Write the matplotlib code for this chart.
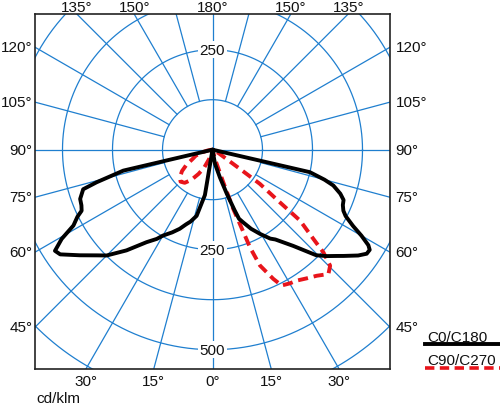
import numpy as np
import matplotlib
matplotlib.use('Agg')
import matplotlib.pyplot as plt
from matplotlib.lines import Line2D

plt.rcParams.update({'font.family': ['Liberation Sans', 'DejaVu Sans']})
plt.rcParams.update({'font.size': 11})

# --------------------------------------------------
# Data (gamma in degrees from nadir, intensity in cd/klm)
# --------------------------------------------------
c0_gamma = [0, 10, 15, 18, 20, 21, 23, 26, 29.5, 33, 35, 40, 44.5, 47, 49.5, 51,
            54, 56, 57.5, 58.5, 60, 61.5, 63.5, 65, 67, 69, 71, 73.5, 75, 77, 90]
c0_cd = [0, 36, 72, 116, 160, 185, 198, 220, 242, 265, 274, 314, 370, 390, 409, 422,
         450, 465, 466, 457, 430, 400, 372, 361, 354, 351, 338, 315, 290, 250, 0]

c180_gamma = [0, 9.5, 13.5, 17, 19.5, 22.5, 26, 30, 32, 35.5, 40.5, 45, 47.5, 51.5,
              55.5, 57.3, 59.4, 61.4, 63.6, 65, 67, 69.6, 73, 74.3, 76.8, 90]
c180_cd = [0, 115, 170, 188, 198, 214, 230, 248, 263, 284, 331, 374, 391, 424,
           462, 468, 438, 396, 377, 361, 356, 353, 338, 301, 229, 0]

c90_gamma = [0, 15, 18.3, 19.3, 20.5, 21, 22.3, 25.2, 27, 30, 32.7, 36, 39.6, 43,
             45.4, 47.2, 48.5, 51, 52, 54.2, 55, 60, 65, 90]
c90_cd = [0, 24, 85, 157, 215, 262, 313, 357, 381, 386, 389, 398, 409, 425,
          413, 378, 337, 282, 214, 146, 84, 19, 5, 0]

c270_gamma = [0, 15, 20, 25, 30, 35, 40, 45, 50, 55, 60, 65, 70, 75, 80, 85, 90]
c270_cd = [0, 0, 25, 50, 70, 92, 108, 113, 106, 93, 75, 55, 45, 30, 14, 4, 0]

ring_values = [125, 250, 375, 500, 625]
ring_labels_top = [250]
ring_labels_bottom = [250, 500]
spoke_step = 15
top_tick_angles = [135, 150, 180]
side_tick_angles = [45, 60, 75, 90, 105, 120]
bottom_tick_angles = [0, 15, 30]
unit_label = 'cd/klm'
legend_labels = ['C0/C180', 'C90/C270']

# --------------------------------------------------
# Figure / axes (data units = cd/klm, 0.4 px per unit)
# --------------------------------------------------
W, H = 500, 406
px = 0.4
fig = plt.figure(figsize=(W / 100, H / 100), dpi=100)
ax = fig.add_axes([35 / W, (H - 370) / H, 355 / W, 355 / H])

x_half = 177.5 / px
y_top = 135.7 / px
y_bot = -219.3 / px
ax.set_xlim(-x_half, x_half)
ax.set_ylim(y_bot, y_top)
ax.set_xticks([])
ax.set_yticks([])
for sp in ax.spines.values():
    sp.set_linewidth(1.2)
    sp.set_color('#222222')

grid_color = '#1f7fcf'
grid_lw = 0.9

# rings
t = np.linspace(0, 2 * np.pi, 721)
for r in ring_values:
    ax.plot(r * np.cos(t), r * np.sin(t), color=grid_color, lw=grid_lw, zorder=1)

# full horizontal / vertical lines
ax.axhline(0, color=grid_color, lw=grid_lw, zorder=1)
ax.axvline(0, color=grid_color, lw=grid_lw, zorder=1)

# spokes from the first ring outward
for g in range(spoke_step, 180, spoke_step):
    if g == 90:
        continue
    gr = np.radians(g)
    for s in (-1, 1):
        dx, dy = s * np.sin(gr), -np.cos(gr)
        ax.plot([ring_values[0] * dx, 2000 * dx], [ring_values[0] * dy, 2000 * dy],
                color=grid_color, lw=grid_lw, zorder=1)


def edge_point(g, s):
    gr = np.radians(g)
    dx, dy = s * np.sin(gr), -np.cos(gr)
    cands = []
    if abs(dx) > 1e-9:
        cands.append((x_half / abs(dx), 'side'))
    if dy > 1e-9:
        cands.append((y_top / dy, 'top'))
    if dy < -1e-9:
        cands.append((y_bot / dy, 'bottom'))
    tt, edge = min(cands)
    return tt * dx, tt * dy, edge


def angle_label(g, s):
    x, y, edge = edge_point(g, s)
    if edge == 'top':
        off, ha, va = (0, 0), 'center', 'bottom'
    elif edge == 'bottom':
        off, ha, va = (0, -8.5), 'center', 'center'
    elif s < 0:
        off, ha, va = (-2, 0), 'right', 'center'
    else:
        off, ha, va = (4, 0), 'left', 'center'
    ax.annotate(f'{g}\u00b0', xy=(x, y), xytext=off, textcoords='offset points',
                ha=ha, va=va, annotation_clip=False, color='#111111')


for g in top_tick_angles:
    for s in ((1,) if g == 180 else (-1, 1)):
        angle_label(g, s)
for g in side_tick_angles:
    for s in (-1, 1):
        angle_label(g, s)
for g in bottom_tick_angles:
    for s in ((1,) if g == 0 else (-1, 1)):
        angle_label(g, s)

# ring value labels
box = dict(facecolor='white', edgecolor='none', pad=1.0)
for v in ring_labels_top:
    ax.text(0, v, str(v), ha='center', va='center', bbox=box, zorder=3, color='#111111')
for v in ring_labels_bottom:
    ax.text(0, -v, str(v), ha='center', va='center', bbox=box, zorder=3, color='#111111')

fig.text(36 / W, 1 - 399 / H, unit_label, ha='left', va='center', color='#111111')


# --------------------------------------------------
# Curves
# --------------------------------------------------
def to_xy(g_left, i_left, g_right, i_right):
    gl = np.radians(np.array(g_left, dtype=float))[::-1]
    il = np.array(i_left, dtype=float)[::-1]
    gr = np.radians(np.array(g_right, dtype=float))
    ir = np.array(i_right, dtype=float)
    x = np.concatenate([-il * np.sin(gl), ir * np.sin(gr)])
    y = np.concatenate([-il * np.cos(gl), -ir * np.cos(gr)])
    return x, y


bx, by = to_xy(c180_gamma, c180_cd, c0_gamma, c0_cd)
rx, ry = to_xy(c270_gamma, c270_cd, c90_gamma, c90_cd)

ax.plot(rx, ry, color='#e8141b', lw=2.8, linestyle=(0, (2.6, 1.5)), zorder=4,
        solid_joinstyle='round')
ax.plot(bx, by, color='black', lw=2.8, zorder=5, solid_joinstyle='round',
        solid_capstyle='round')

# --------------------------------------------------
# Legend
# --------------------------------------------------
fig.text(427 / W, 1 - 338 / H, legend_labels[0], ha='left', va='center', color='#111111')
fig.add_artist(Line2D([425 / W, 1.0], [1 - 345 / H, 1 - 345 / H], color='black', lw=2.8))
fig.text(427 / W, 1 - 361 / H, legend_labels[1], ha='left', va='center', color='#111111')
fig.add_artist(Line2D([425 / W, 1.0], [1 - 369 / H, 1 - 369 / H], color='#e8141b', lw=2.6,
                      linestyle=(0, (2.6, 1.5))))

fig.savefig('out.png', dpi=100)
